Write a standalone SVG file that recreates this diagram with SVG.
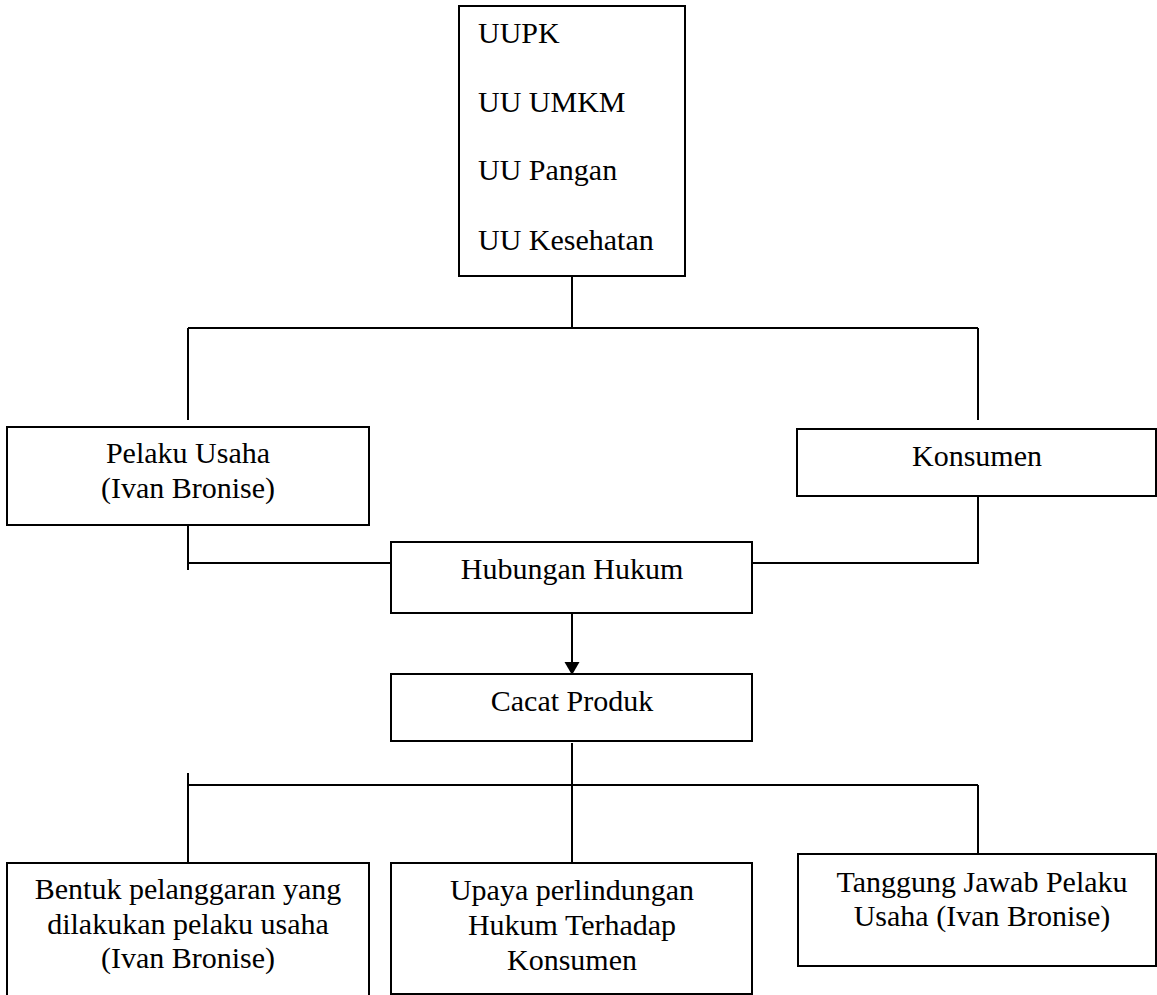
<svg xmlns="http://www.w3.org/2000/svg" width="1157" height="995" viewBox="0 0 1157 995">
<style>
.box{fill:#fff;stroke:#000;stroke-width:2}
.ln{fill:none;stroke:#000;stroke-width:2}
text{font-family:"Liberation Serif","Times New Roman",serif;font-size:30px;fill:#000}
.c{text-anchor:middle}
</style>
<rect width="1157" height="995" fill="#fff"/>
<g id="connectors">
<path class="ln" d="M572 276V328M188 328H978M188 328V420M978 328V420"/>
<path class="ln" d="M188 525V570M188 563H391M978 496V563H752"/>
<path class="ln" d="M572 608V663"/>
<polygon points="564.5,662 579.5,662 572,675" fill="#000"/>
<path class="ln" d="M572 743V863M188 785H978M188 773V863M978 785V854"/>
</g>
<g id="node-uu">
<rect class="box" x="459" y="6" width="226" height="270"/>
<text x="478" y="43">UUPK</text>
<text x="478" y="112">UU UMKM</text>
<text x="478" y="180">UU Pangan</text>
<text x="478" y="250">UU Kesehatan</text>
</g>
<g id="node-pelaku">
<rect class="box" x="7" y="427" width="362" height="98"/>
<text class="c" x="188" y="463">Pelaku Usaha</text>
<text class="c" x="188" y="498">(Ivan Bronise)</text>
</g>
<g id="node-konsumen">
<rect class="box" x="797" y="429" width="359" height="67"/>
<text class="c" x="977" y="466">Konsumen</text>
</g>
<g id="node-hubungan">
<rect class="box" x="391" y="542" width="361" height="71"/>
<text class="c" x="572" y="579">Hubungan Hukum</text>
</g>
<g id="node-cacat">
<rect class="box" x="391" y="674" width="361" height="67"/>
<text class="c" x="572" y="711">Cacat Produk</text>
</g>
<g id="node-bentuk">
<path class="ln" d="M7 1000V863H369V1000"/>
<text class="c" x="188" y="899">Bentuk pelanggaran yang</text>
<text class="c" x="188" y="934">dilakukan pelaku usaha</text>
<text class="c" x="188" y="968">(Ivan Bronise)</text>
</g>
<g id="node-upaya">
<rect class="box" x="391" y="863" width="361" height="131"/>
<text class="c" x="572" y="900">Upaya perlindungan</text>
<text class="c" x="572" y="935">Hukum Terhadap</text>
<text class="c" x="572" y="970">Konsumen</text>
</g>
<g id="node-tanggung">
<rect class="box" x="798" y="854" width="358" height="112"/>
<text class="c" x="982" y="892">Tanggung Jawab Pelaku</text>
<text class="c" x="982" y="926">Usaha (Ivan Bronise)</text>
</g>
</svg>
